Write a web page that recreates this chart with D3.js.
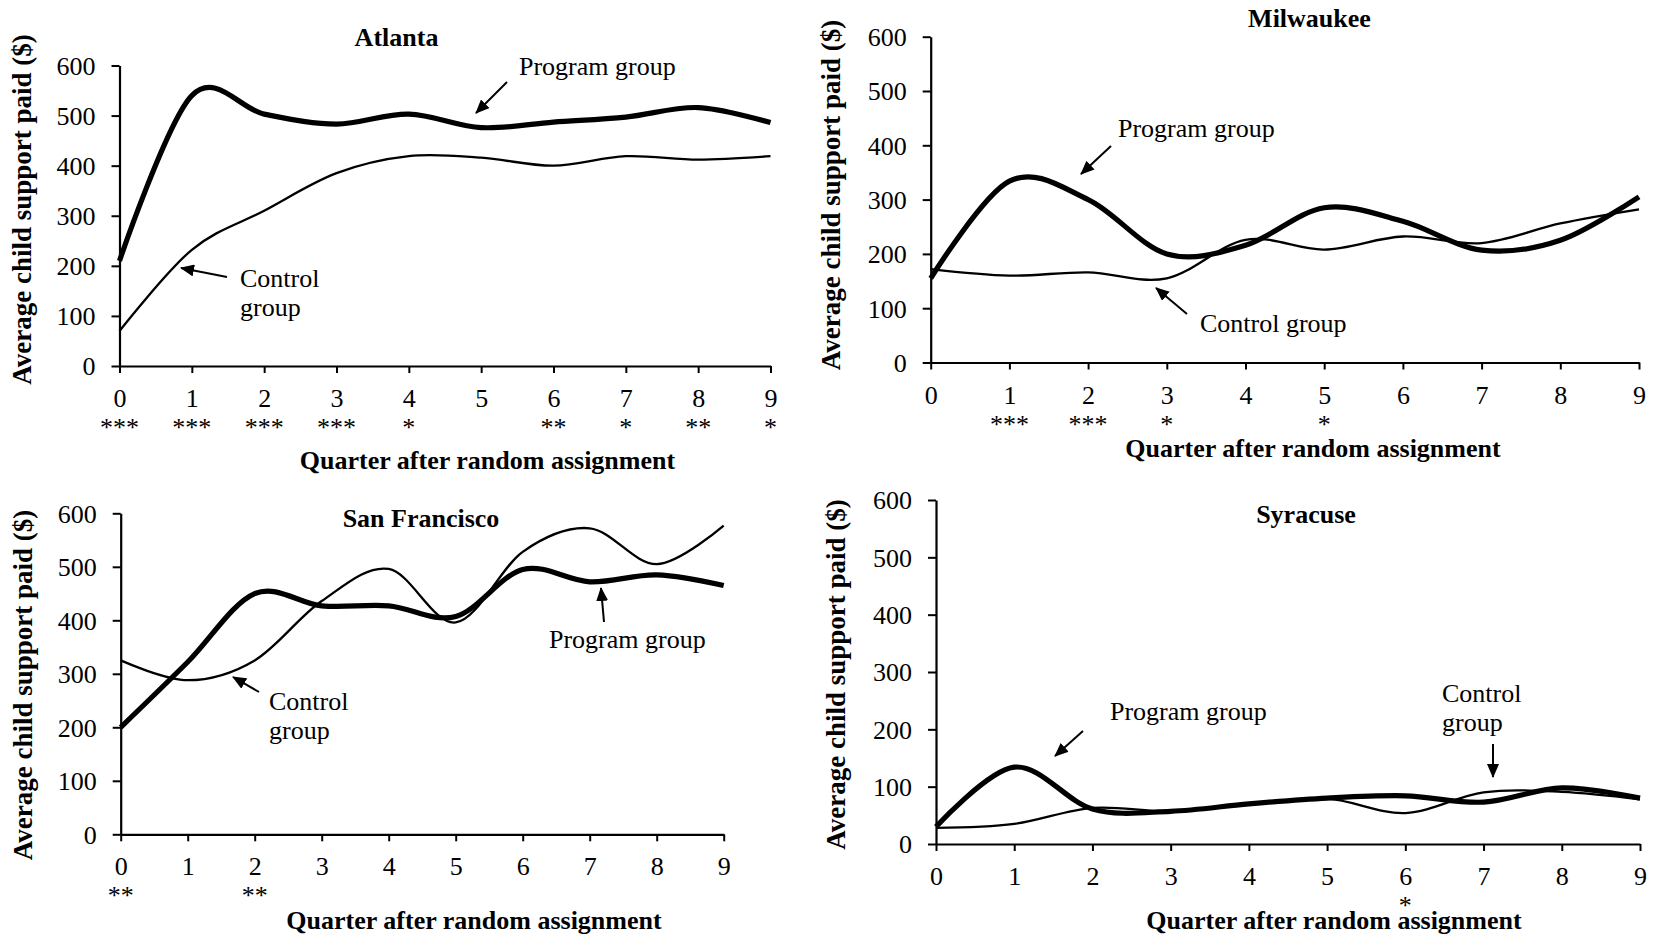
<!DOCTYPE html>
<html>
<head>
<meta charset="utf-8">
<script src="https://cdn.jsdelivr.net/npm/d3@7"></script>
<style>
  html, body { margin: 0; padding: 0; background: #fff; }
  svg { display: block; }
  text { font-family: "Liberation Serif", "Times New Roman", Times, serif; fill: #000; }
</style>
</head>
<body>
<svg id="chart" width="1659" height="939"></svg>
<script>
// Quarters after random assignment and the y-axis ticks shared by all sites
const quarters = [0, 1, 2, 3, 4, 5, 6, 7, 8, 9];
const yTicks = [0, 100, 200, 300, 400, 500, 600];

// Average child support paid ($) per quarter
const atlantaProgram = [210, 540, 503, 483, 503, 476, 487, 497, 516, 486];
const atlantaControl = [70, 232, 310, 385, 419, 416, 400, 419, 412, 419];
const atlantaStars = ["***", "***", "***", "***", "*", "", "**", "*", "**", "*"];

const milwaukeeProgram = [155, 334, 300, 200, 216, 285, 260, 207, 225, 305];
const milwaukeeControl = [172, 160, 166, 155, 226, 208, 232, 220, 256, 282];
const milwaukeeStars = ["", "***", "***", "*", "", "*", "", "", "", ""];

const sanFranciscoProgram = [200, 322, 450, 427, 427, 407, 495, 472, 485, 465];
const sanFranciscoControl = [325, 288, 325, 436, 496, 396, 528, 572, 505, 577];
const sanFranciscoStars = ["**", "", "**", "", "", "", "", "", "", ""];

const syracuseProgram = [30, 134, 61, 57, 70, 80, 84, 73, 98, 80];
const syracuseControl = [28, 35, 63, 57, 70, 79, 54, 90, 91, 78];
const syracuseStars = ["", "", "", "", "", "", "*", "", "", ""];

const yLabel = "Average child support paid ($)";
const xLabel = "Quarter after random assignment";

const panels = [
  {
    title: "Atlanta", program: atlantaProgram, control: atlantaControl, stars: atlantaStars,
    left: 119.5, right: 770.5, bottom: 366, top: 65.5,
    titleX: 396.5, titleY: 46, xTitleX: 487.5, xTitleY: 469, yLabelX: 31, yLabelY: 209.5,
    notes: [
      { lines: ["Program group"], x: 519, y: 75 },
      { lines: ["Control", "group"], x: 240, y: 287 }
    ],
    arrows: [
      { from: [507, 82], to: [476, 113] },
      { from: [227, 277], to: [181, 268] }
    ]
  },
  {
    title: "Milwaukee", program: milwaukeeProgram, control: milwaukeeControl, stars: milwaukeeStars,
    left: 930.7, right: 1639, bottom: 362.5, top: 36.7,
    titleX: 1309.5, titleY: 27, xTitleX: 1313, xTitleY: 457, yLabelX: 839.5, yLabelY: 195,
    notes: [
      { lines: ["Program group"], x: 1118, y: 137 },
      { lines: ["Control group"], x: 1200, y: 332 }
    ],
    arrows: [
      { from: [1111, 146], to: [1081, 174] },
      { from: [1187, 314], to: [1156, 288] }
    ]
  },
  {
    title: "San Francisco", program: sanFranciscoProgram, control: sanFranciscoControl, stars: sanFranciscoStars,
    left: 120.7, right: 723.7, bottom: 834.3, top: 513.3,
    titleX: 421, titleY: 527, xTitleX: 474, xTitleY: 929, yLabelX: 32, yLabelY: 685,
    notes: [
      { lines: ["Program group"], x: 549, y: 648 },
      { lines: ["Control", "group"], x: 269, y: 710 }
    ],
    arrows: [
      { from: [604, 622], to: [601, 588] },
      { from: [259, 692], to: [233, 677] }
    ]
  },
  {
    title: "Syracuse", program: syracuseProgram, control: syracuseControl, stars: syracuseStars,
    left: 936, right: 1640, bottom: 844, top: 500,
    titleX: 1306, titleY: 523, xTitleX: 1334, xTitleY: 929, yLabelX: 845, yLabelY: 674.5,
    notes: [
      { lines: ["Program group"], x: 1110, y: 720 },
      { lines: ["Control", "group"], x: 1442, y: 702 }
    ],
    arrows: [
      { from: [1083, 731], to: [1055, 756] },
      { from: [1493, 744], to: [1493, 777] }
    ]
  }
];

const svg = d3.select("#chart");

// Filled arrowhead for the callout arrows
svg.append("defs").append("marker")
  .attr("id", "head")
  .attr("markerUnits", "userSpaceOnUse")
  .attr("viewBox", "0 0 14 12")
  .attr("refX", 13).attr("refY", 6)
  .attr("markerWidth", 14).attr("markerHeight", 12)
  .attr("orient", "auto")
  .append("path")
  .attr("d", "M0,0 L14,6 L0,12 Z")
  .attr("fill", "#000");

panels.forEach(p => {
  const x = d3.scaleLinear().domain([0, 9]).range([p.left, p.right]);
  const y = d3.scaleLinear().domain([0, 600]).range([p.bottom, p.top]);
  const g = svg.append("g");

  // Axes
  const yAxis = g.append("g")
    .attr("transform", `translate(${p.left},0)`)
    .call(d3.axisLeft(y).tickValues(yTicks).tickSize(8).tickSizeOuter(0).tickPadding(16).tickFormat(d3.format("d")));
  const xAxis = g.append("g")
    .attr("transform", `translate(0,${p.bottom})`)
    .call(d3.axisBottom(x).tickValues(quarters).tickSize(7).tickSizeOuter(0).tickFormat(d3.format("d")));

  [yAxis, xAxis].forEach(a => {
    a.select(".domain").attr("stroke", "#000").attr("stroke-width", 2.2);
    a.selectAll(".tick line").attr("stroke", "#000").attr("stroke-width", 2);
    a.selectAll(".tick text")
      .attr("font-size", 26)
      .style("font-family", '"Liberation Serif", "Times New Roman", serif')
      .attr("fill", "#000");
  });
  xAxis.selectAll(".tick text").attr("y", 41).attr("dy", 0);
  yAxis.selectAll(".tick text").attr("dy", "0.34em");

  // Significance stars under the quarter labels
  g.selectAll("text.star")
    .data(quarters.filter(q => p.stars[q] !== ""))
    .join("text")
    .attr("class", "star")
    .attr("x", q => x(q))
    .attr("y", p.bottom + 70)
    .attr("text-anchor", "middle")
    .attr("font-size", 26)
    .text(q => p.stars[q]);

  // Series lines (smoothed)
  const line = d3.line()
    .x((d, i) => x(quarters[i]))
    .y(d => y(d))
    .curve(d3.curveCardinal.tension(0));

  g.append("path")
    .datum(p.control)
    .attr("d", line)
    .attr("fill", "none")
    .attr("stroke", "#000")
    .attr("stroke-width", 2.3);

  g.append("path")
    .datum(p.program)
    .attr("d", line)
    .attr("fill", "none")
    .attr("stroke", "#000")
    .attr("stroke-width", 5.2)
    .attr("stroke-linejoin", "round");

  // Titles
  g.append("text")
    .attr("x", p.titleX).attr("y", p.titleY)
    .attr("text-anchor", "middle")
    .attr("font-size", 26).attr("font-weight", "bold")
    .text(p.title);

  g.append("text")
    .attr("x", p.xTitleX).attr("y", p.xTitleY)
    .attr("text-anchor", "middle")
    .attr("font-size", 26).attr("font-weight", "bold")
    .text(xLabel);

  g.append("text")
    .attr("transform", `translate(${p.yLabelX},${p.yLabelY}) rotate(-90)`)
    .attr("text-anchor", "middle")
    .attr("font-size", 27).attr("font-weight", "bold")
    .text(yLabel);

  // Callout labels and arrows
  p.notes.forEach(n => {
    const t = g.append("text").attr("font-size", 26);
    n.lines.forEach((s, i) => {
      t.append("tspan").attr("x", n.x).attr("y", n.y + i * 29).text(s);
    });
  });
  p.arrows.forEach(a => {
    g.append("line")
      .attr("x1", a.from[0]).attr("y1", a.from[1])
      .attr("x2", a.to[0]).attr("y2", a.to[1])
      .attr("stroke", "#000").attr("stroke-width", 2)
      .attr("marker-end", "url(#head)");
  });
});
</script>
</body>
</html>
